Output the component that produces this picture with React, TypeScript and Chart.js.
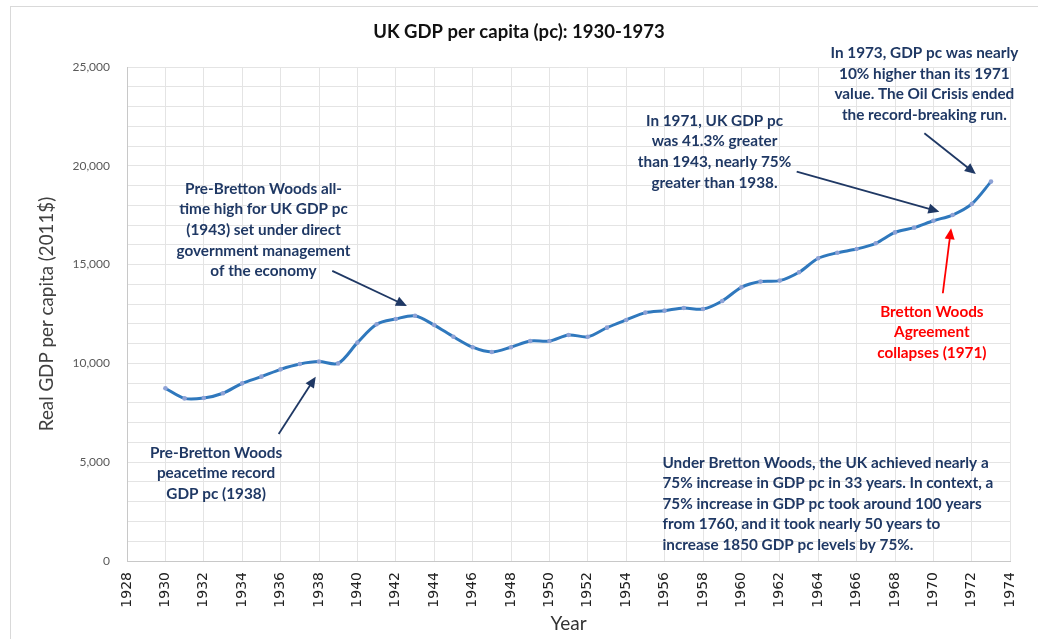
import React, { useEffect, useRef } from "react";
import { Chart, registerables } from "chart.js";

Chart.register(...registerables);

// ---- Data ----
const years = [
  1930, 1931, 1932, 1933, 1934, 1935, 1936, 1937, 1938, 1939,
  1940, 1941, 1942, 1943, 1944, 1945, 1946, 1947, 1948, 1949,
  1950, 1951, 1952, 1953, 1954, 1955, 1956, 1957, 1958, 1959,
  1960, 1961, 1962, 1963, 1964, 1965, 1966, 1967, 1968, 1969,
  1970, 1971, 1972, 1973,
];
const gdpPerCapita = [
  8740, 8230, 8250, 8490, 8990, 9330, 9700, 9970, 10090, 10000,
  11050, 11980, 12250, 12410, 11940, 11350, 10820, 10580, 10820, 11130,
  11130, 11440, 11350, 11810, 12200, 12570, 12670, 12800, 12750, 13160,
  13850, 14140, 14190, 14610, 15320, 15600, 15790, 16080, 16630, 16870,
  17220, 17510, 18070, 19200,
];

const xMin = 1928;
const xMax = 1974;
const xStep = 2;
const yMin = 0;
const yMax = 25000;
const yStep = 1000;
const yLabelEvery = 5000;

const chartTitle = "UK GDP per capita (pc): 1930-1973";
const yTitle = "Real GDP per capita (2011$)";
const xTitle = "Year";

// Annotation texts (anchored in data coordinates: year, value)
const noteWarHigh = [
  "Pre-Bretton Woods all-",
  "time high for UK GDP pc",
  "(1943) set under direct",
  "government management",
  "of the economy",
];
const notePeace = ["Pre-Bretton Woods", "peacetime record", "GDP pc (1938)"];
const note1971 = [
  "In 1971, UK GDP pc",
  "was 41.3% greater",
  "than 1943, nearly 75%",
  "greater than 1938.",
];
const note1973 = [
  "In 1973, GDP pc was nearly",
  "10% higher than its 1971",
  "value. The Oil Crisis ended",
  "the record-breaking run.",
];
const noteCollapse = ["Bretton Woods", "Agreement", "collapses (1971)"];
const noteSummary = [
  "Under Bretton Woods, the UK achieved nearly a",
  "75% increase in GDP pc in 33 years. In context, a",
  "75% increase in GDP pc took around 100 years",
  "from 1760, and it took nearly 50 years to",
  "increase 1850 GDP pc levels by 75%.",
];

// [year, value] anchors for each note's first line
const noteAnchors = [
  [1935.11, 18830],
  [1932.64, 5480],
  [1958.6, 22270],
  [1969.53, 25690],
  [1969.92, 12620],
  [1955.89, 4975],
];
// arrows: [tailYear, tailValue, tipYear, tipValue]
const arrowWarHigh = [1938.69, 14680, 1942.58, 12905];
const arrowPeace = [1935.9, 6430, 1937.83, 9330];
const arrow1971 = [1962.88, 19700, 1970.31, 17680];
const arrow1973 = [1969.53, 21645, 1972.21, 19585];
const arrowCollapse = [1970.49, 13550, 1970.92, 16840];

const NAVY = "#1F3864";
const RED = "#FF0000";

function drawArrow(
  ctx: CanvasRenderingContext2D,
  x1: number,
  y1: number,
  x2: number,
  y2: number,
  color: string
) {
  const ang = Math.atan2(y2 - y1, x2 - x1);
  const L = 11;
  const W = 5;
  const c = Math.cos(ang);
  const s = Math.sin(ang);
  ctx.save();
  ctx.strokeStyle = color;
  ctx.fillStyle = color;
  ctx.lineWidth = 1.8;
  ctx.beginPath();
  ctx.moveTo(x1, y1);
  ctx.lineTo(x2 - L * 0.7 * c, y2 - L * 0.7 * s);
  ctx.stroke();
  ctx.beginPath();
  ctx.moveTo(x2, y2);
  ctx.lineTo(x2 - L * c + W * s, y2 - L * s - W * c);
  ctx.lineTo(x2 - L * c - W * s, y2 - L * s + W * c);
  ctx.closePath();
  ctx.fill();
  ctx.restore();
}

const annotationPlugin = {
  id: "notes",
  afterLayout(chart: any) {
    // centre the title across the whole canvas width
    const t = chart.titleBlock;
    if (t) {
      t.left = 0;
      t.right = chart.width;
      t.width = chart.width;
    }
  },
  beforeDraw(chart: any) {
    const ctx = chart.ctx as CanvasRenderingContext2D;
    ctx.save();
    ctx.fillStyle = "#FFFFFF";
    ctx.fillRect(0, 0, chart.width, chart.height);
    ctx.strokeStyle = "#D9D9D9";
    ctx.lineWidth = 1;
    ctx.strokeRect(10.5, 6.5, chart.width + 20, chart.height + 20);
    ctx.restore();
  },
  afterDraw(chart: any) {
    const ctx = chart.ctx as CanvasRenderingContext2D;
    const xs = chart.scales.x;
    const ys = chart.scales.y;
    const px = (v: number) => xs.getPixelForValue(v);
    const py = (v: number) => ys.getPixelForValue(v);
    const lineGap = 20.6;

    const texts: [string[], number[], string, CanvasTextAlign][] = [
      [noteWarHigh, noteAnchors[0], NAVY, "center"],
      [notePeace, noteAnchors[1], NAVY, "center"],
      [note1971, noteAnchors[2], NAVY, "center"],
      [note1973, noteAnchors[3], NAVY, "center"],
      [noteCollapse, noteAnchors[4], RED, "center"],
      [noteSummary, noteAnchors[5], NAVY, "left"],
    ];
    ctx.save();
    ctx.font = "bold 15.3px Lato";
    ctx.textBaseline = "middle";
    texts.forEach(([lines, anchor, color, align]) => {
      ctx.fillStyle = color;
      ctx.textAlign = align;
      const x = px(anchor[0]);
      const y0 = py(anchor[1]);
      lines.forEach((ln, i) => ctx.fillText(ln, x, y0 + i * lineGap));
    });
    ctx.restore();

    const arrows: [number[], string][] = [
      [arrowWarHigh, NAVY],
      [arrowPeace, NAVY],
      [arrow1971, NAVY],
      [arrow1973, NAVY],
      [arrowCollapse, RED],
    ];
    arrows.forEach(([a, color]) =>
      drawArrow(ctx, px(a[0]), py(a[1]), px(a[2]), py(a[3]), color)
    );
  },
};

export default function App() {
  const canvasRef = useRef<HTMLCanvasElement | null>(null);

  useEffect(() => {
    if (!canvasRef.current) return;
    const chart = new Chart(canvasRef.current, {
      type: "line",
      data: {
        datasets: [
          {
            label: "UK GDP per capita",
            data: years.map((y, i) => ({ x: y, y: gdpPerCapita[i] })),
            borderColor: "#2F78BD",
            borderWidth: 3,
            tension: 0.3,
            pointRadius: 2.3,
            pointBackgroundColor: "#8EA2D6",
            pointBorderWidth: 0,
            fill: false,
          },
        ],
      },
      options: {
        responsive: false,
        maintainAspectRatio: false,
        animation: false,
        layout: { padding: { left: 0, right: 23, top: 0, bottom: 0 } },
        plugins: {
          legend: { display: false },
          tooltip: { enabled: false },
          title: {
            display: true,
            text: chartTitle,
            color: "#111111",
            font: { family: "Lato", size: 18.5, weight: "bold" },
            padding: { top: 21, bottom: 23.8 },
          },
        },
        scales: {
          x: {
            type: "linear",
            min: xMin,
            max: xMax,
            afterFit: (s: any) => {
              s.height = 78;
            },
            ticks: {
              stepSize: xStep,
              autoSkip: false,
              minRotation: 90,
              maxRotation: 90,
              padding: 11,
              color: "#222222",
              font: { family: "DejaVu Sans", size: 14 },
              callback: (v: any) => String(v),
            },
            grid: { color: "#E4E4E4", drawTicks: false, lineWidth: 1 },
            border: { color: "#C8C8C8", width: 1 },
            title: {
              display: true,
              text: xTitle,
              color: "#333333",
              font: { family: "Lato", size: 19 },
              padding: { top: 0, bottom: 4 },
            },
          },
          y: {
            type: "linear",
            min: yMin,
            max: yMax,
            afterFit: (s: any) => {
              s.width = 127;
            },
            ticks: {
              stepSize: yStep,
              autoSkip: false,
              padding: 17,
              color: "#595959",
              font: { family: "Lato", size: 12 },
              callback: (v: any) =>
                Number(v) % yLabelEvery === 0
                  ? Number(v).toLocaleString("en-US")
                  : "",
            },
            grid: { color: "#E4E4E4", drawTicks: false, lineWidth: 1 },
            border: { color: "#C8C8C8", width: 1 },
            title: {
              display: true,
              text: yTitle,
              color: "#404040",
              font: { family: "Lato", size: 18.8 },
              padding: { top: 36, bottom: 0 },
            },
          },
        },
      },
      plugins: [annotationPlugin],
    });
    return () => chart.destroy();
  }, []);

  return (
    <div
      style={{
        position: "fixed",
        left: 0,
        top: 0,
        width: 1038,
        height: 639,
        overflow: "hidden",
        background: "#fff",
      }}
    >
      <canvas ref={canvasRef} width={1038} height={639} />
    </div>
  );
}
